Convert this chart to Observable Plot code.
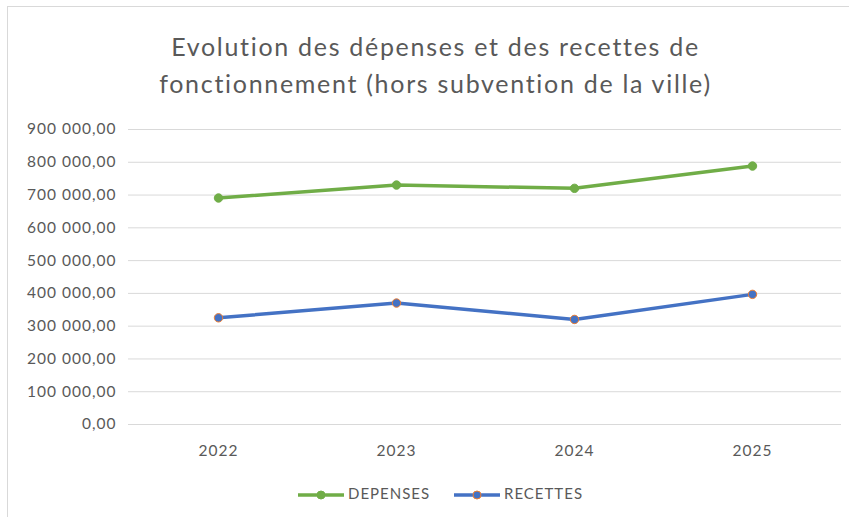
<!DOCTYPE html>
<html>
<head>
<meta charset="utf-8">
<script src="https://cdn.jsdelivr.net/npm/d3@7"></script>
<script src="https://cdn.jsdelivr.net/npm/@observablehq/plot@0.6"></script>
<style>
  html, body { margin: 0; padding: 0; background: #fff; }
  body { width: 849px; height: 517px; position: relative; overflow: hidden; font-family: Lato, "Open Sans", sans-serif; color: #595959; }
  #frame { position: absolute; left: 7px; top: 6px; width: 900px; height: 600px; border-left: 1px solid #d9d9d9; border-top: 1px solid #d9d9d9; }
  #title { position: absolute; left: 0; top: 28px; width: 849px; text-align: center; font-size: 25px; letter-spacing: 1.7px; line-height: 37px; color: #595959; padding-left: 22px; box-sizing: border-box; }
  #chart { position: absolute; left: 0; top: 110px; }
  #chart svg text { letter-spacing: 1px; }
  #legend { position: absolute; left: 0; top: 482px; width: 849px; height: 22px; }
  .item { position: absolute; top: 0; font-size: 15px; letter-spacing: 1px; line-height: 22px; color: #595959; }
  .item svg { vertical-align: middle; }
</style>
</head>
<body>
<div id="frame"></div>
<div id="title">Evolution des dépenses et des recettes de<br>fonctionnement (hors subvention de la ville)</div>
<div id="chart"></div>
<div id="legend"></div>
<script>
const years = ["2022", "2023", "2024", "2025"];
const depenses = [691000, 730500, 720500, 788500];
const recettes = [325500, 370500, 320500, 397000];
const yTicks = [0, 100000, 200000, 300000, 400000, 500000, 600000, 700000, 800000, 900000];
const seriesNames = ["DEPENSES", "RECETTES"];
const seriesColors = ["#70AD47", "#4472C4"];
const markerStrokes = ["#70AD47", "#ED7D31"];

const data = [];
years.forEach((y, i) => {
  data.push({year: y, value: depenses[i], serie: seriesNames[0]});
  data.push({year: y, value: recettes[i], serie: seriesNames[1]});
});

const fr = d3.formatLocale({decimal: ",", thousands: " ", grouping: [3], currency: ["", " €"]});
const fmt = fr.format(",.2f");

const chart = Plot.plot({
  width: 849,
  height: 360,
  marginLeft: 128,
  marginRight: 8,
  marginTop: 19,
  marginBottom: 46,
  style: {fontFamily: "Lato, 'Open Sans', sans-serif", fontSize: "15.5px", color: "#595959", background: "transparent"},
  x: {type: "point", domain: years, padding: 0.5, label: null, tickSize: 0, tickPadding: 20},
  y: {domain: [0, 900000], ticks: yTicks, tickFormat: fmt, label: null, tickSize: 0, tickPadding: 13},
  color: {domain: seriesNames, range: seriesColors},
  marks: [
    Plot.gridY(yTicks, {stroke: "#d9d9d9", strokeOpacity: 1, strokeWidth: 1}),
    Plot.axisY({ticks: yTicks, tickFormat: fmt, tickSize: 0, tickPadding: 12, fill: "#595959", label: null}),
    Plot.axisX({tickSize: 0, tickPadding: 20, fill: "#595959", label: null}),
    Plot.line(data, {x: "year", y: "value", z: "serie", stroke: "serie", strokeWidth: 3.5, strokeLinecap: "round", strokeLinejoin: "round"}),
    Plot.dot(data, {x: "year", y: "value", fill: "serie", r: 4.2,
      stroke: d => markerStrokes[seriesNames.indexOf(d.serie)], strokeWidth: 1})
  ]
});
document.getElementById("chart").appendChild(chart);

// Legend
const legend = document.getElementById("legend");
const positions = [297, 453];
seriesNames.forEach((name, i) => {
  const div = document.createElement("div");
  div.className = "item";
  div.style.left = positions[i] + "px";
  div.innerHTML = `<svg width="48" height="12"><line x1="1" y1="6" x2="47" y2="6" stroke="${seriesColors[i]}" stroke-width="3.5"/><circle cx="24" cy="6" r="4" fill="${seriesColors[i]}" stroke="${markerStrokes[i]}" stroke-width="1"/></svg><span style="margin-left:3px">${name}</span>`;
  legend.appendChild(div);
});
</script>
</body>
</html>
